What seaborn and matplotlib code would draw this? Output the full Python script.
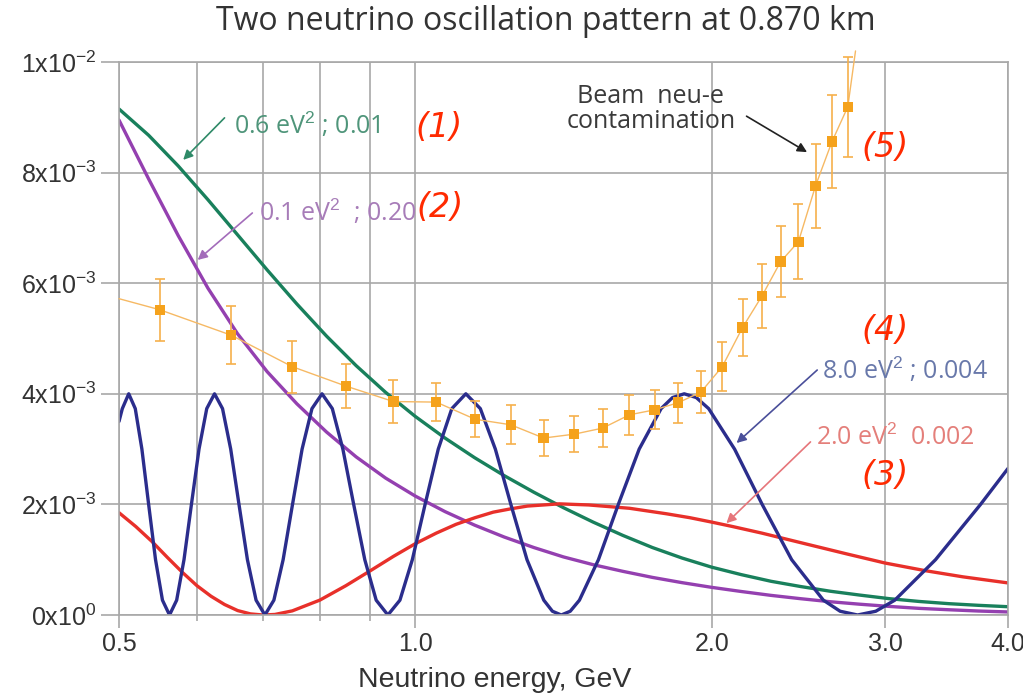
# ============================================
# TWO NEUTRINO OSCILLATION PATTERN AT 0.870 km
# ============================================

import numpy as np
import pandas as pd
import seaborn as sns
import matplotlib
matplotlib.use("Agg")
import matplotlib.pyplot as plt
from matplotlib.ticker import FixedLocator, NullFormatter


# ============================================
# DATA  (probabilities in units of 1e-3)
# ============================================

# energies (1) and (2)
smooth_energy = [0.5000, 0.5359, 0.5743, 0.6156, 0.6598, 0.7071, 0.7579, 0.8123,
                 0.8706, 0.9330, 1.0000, 1.0718, 1.1487, 1.2311, 1.3195, 1.4142,
                 1.5157, 1.6245, 1.7411, 1.8661, 2.0000, 2.1435, 2.2974, 2.4623,
                 2.6390, 2.8284, 3.0314, 3.2490, 3.4822, 3.7321, 4.0000]

# (1) 0.6 eV^2 ; 0.01
green_prob = [9.15, 8.675, 8.12, 7.51, 6.875, 6.24, 5.625, 5.045,
              4.51, 4.025, 3.59, 3.20, 2.845, 2.52, 2.22, 1.94,
              1.68, 1.44, 1.22, 1.03, 0.865, 0.73, 0.61, 0.515,
              0.43, 0.36, 0.295, 0.245, 0.205, 0.175, 0.15]

# (2) 0.1 eV^2 ; 0.20
purple_prob = [8.95, 7.885, 6.86, 5.91, 5.085, 4.40, 3.82, 3.31,
               2.86, 2.475, 2.15, 1.87, 1.625, 1.41, 1.22, 1.05,
               0.91, 0.79, 0.68, 0.585, 0.50, 0.425, 0.355, 0.295,
               0.24, 0.195, 0.155, 0.12, 0.095, 0.072, 0.055]

# (3) 2.0 eV^2 ; 0.002
red_energy = [0.50, 0.52, 0.54, 0.56, 0.58, 0.60, 0.62, 0.64, 0.66, 0.68, 0.70,
              0.72, 0.75, 0.80, 0.85, 0.90, 0.95, 1.00, 1.05, 1.10, 1.15, 1.20,
              1.25, 1.30, 1.35, 1.40, 1.50, 1.65, 1.80, 1.90, 2.00, 2.10, 2.25,
              2.50, 2.75, 3.00, 3.30, 3.60, 4.00]
red_prob = [1.85, 1.60, 1.33, 1.04, 0.77, 0.53, 0.34, 0.19, 0.08, 0.02, 0.00,
            0.01, 0.075, 0.27, 0.53, 0.80, 1.06, 1.29, 1.48, 1.64, 1.76, 1.86,
            1.92, 1.97, 1.99, 2.01, 1.99, 1.93, 1.83, 1.76, 1.68, 1.60, 1.48,
            1.28, 1.10, 0.94, 0.80, 0.69, 0.58]

# (4) 8.0 eV^2 ; 0.004
blue_energy = [0.5000, 0.5039, 0.5115, 0.5194, 0.5275, 0.5359, 0.5446, 0.5535,
               0.5627, 0.5722, 0.5821, 0.5923, 0.6029, 0.6139, 0.6252, 0.6370,
               0.6493, 0.6620, 0.6752, 0.6890, 0.7034, 0.7183, 0.7340, 0.7503,
               0.7673, 0.7852, 0.8039, 0.8235, 0.8441, 0.8657, 0.8885, 0.9125,
               0.9378, 0.9646, 0.9930, 1.0231, 1.0551, 1.0891, 1.1254, 1.1642,
               1.2058, 1.2504, 1.2985, 1.3505, 1.3780, 1.4068, 1.4367, 1.4679,
               1.5346, 1.6077, 1.6881, 1.7769, 1.8250, 1.8757, 1.9293, 1.9860,
               2.1101, 2.2508, 2.4116, 2.5971, 2.7010, 2.8135, 2.9358, 3.0693,
               3.3762, 3.7513, 4.0000]
blue_prob = [3.50, 3.732, 4.0, 3.732, 3.0, 2.0, 1.0, 0.268,
             0.0, 0.268, 1.0, 2.0, 3.0, 3.732, 4.0, 3.732,
             3.0, 2.0, 1.0, 0.268, 0.0, 0.268, 1.0, 2.0,
             3.0, 3.732, 4.0, 3.732, 3.0, 2.0, 1.0, 0.268,
             0.0, 0.268, 1.0, 2.0, 3.0, 3.732, 4.0, 3.732,
             3.0, 2.0, 1.0, 0.268, 0.068, 0.0, 0.068, 0.268,
             1.0, 2.0, 3.0, 3.732, 3.932, 4.0, 3.932, 3.732,
             3.0, 2.0, 1.0, 0.268, 0.068, 0.0, 0.068, 0.268,
             1.0, 2.0, 2.65]

# (5) beam neu-e contamination
beam_energy = [0.55, 0.65, 0.75, 0.85, 0.95, 1.05, 1.15, 1.25, 1.35, 1.45, 1.55, 1.65,
               1.75, 1.85, 1.95, 2.05, 2.15, 2.25, 2.35, 2.45, 2.55, 2.65, 2.75]
beam_prob = [5.52, 5.06, 4.49, 4.14, 3.86, 3.85, 3.54, 3.44, 3.20, 3.27, 3.38, 3.62,
             3.71, 3.84, 4.03, 4.49, 5.20, 5.77, 6.39, 6.75, 7.76, 8.56, 9.19]
beam_err = [0.56, 0.52, 0.47, 0.40, 0.39, 0.35, 0.33, 0.35, 0.33, 0.32, 0.34, 0.36,
            0.35, 0.36, 0.38, 0.44, 0.52, 0.58, 0.64, 0.68, 0.76, 0.84, 0.90]
# thin guide line runs a little past the first and last points
beam_line_start = (0.50, 5.72)
beam_line_end = (2.80, 10.2)

x_ticks = [0.5, 1.0, 2.0, 3.0, 4.0]
x_tick_labels = ["0.5", "1.0", "2.0", "3.0", "4.0"]
x_minor = [0.6, 0.7, 0.8, 0.9]
y_ticks = [0.0, 2.0, 4.0, 6.0, 8.0, 10.0]
y_tick_labels = [r"0x10$^{0}$", r"2x10$^{-3}$", r"4x10$^{-3}$",
                 r"6x10$^{-3}$", r"8x10$^{-3}$", r"1x10$^{-2}$"]

SCALE = 1e-3


# ============================================
# STYLE
# ============================================

sns.set_style("white")
plt.rcParams['font.family'] = ['Liberation Sans', 'DejaVu Sans']
plt.rcParams['mathtext.fontset'] = 'custom'
plt.rcParams['mathtext.rm'] = 'Liberation Sans'
plt.rcParams['mathtext.it'] = 'Liberation Sans:italic'
plt.rcParams['mathtext.bf'] = 'Liberation Sans:bold'

colors = {
    "green": "#19805c",
    "purple": "#9440b0",
    "red": "#e8302a",
    "blue": "#2b2d8c",
}
grid_col = "#a8a8a8"
label_col = "#333333"


# ============================================
# BUILD TABLE
# ============================================

curves = pd.concat([
    pd.DataFrame({"energy": smooth_energy, "prob": np.array(green_prob) * SCALE, "curve": "green"}),
    pd.DataFrame({"energy": smooth_energy, "prob": np.array(purple_prob) * SCALE, "curve": "purple"}),
    pd.DataFrame({"energy": red_energy, "prob": np.array(red_prob) * SCALE, "curve": "red"}),
    pd.DataFrame({"energy": blue_energy, "prob": np.array(blue_prob) * SCALE, "curve": "blue"}),
], ignore_index=True)

beam = pd.DataFrame({
    "energy": beam_energy,
    "prob": np.array(beam_prob) * SCALE,
    "err": np.array(beam_err) * SCALE,
})
beam_line = pd.DataFrame({
    "energy": [beam_line_start[0]] + beam_energy + [beam_line_end[0]],
    "prob": np.array([beam_line_start[1]] + beam_prob + [beam_line_end[1]]) * SCALE,
})


# ============================================
# PLOT
# ============================================

fig, ax = plt.subplots(figsize=(10.23, 6.94), dpi=100)
fig.subplots_adjust(left=119 / 1023, right=1008 / 1023, top=1 - 62 / 694, bottom=1 - 615 / 694)

sns.lineplot(data=curves, x="energy", y="prob", hue="curve", palette=colors,
             hue_order=["green", "purple", "red", "blue"],
             estimator=None, sort=True, linewidth=2.4, legend=False, ax=ax)

# beam contamination points
sns.lineplot(data=beam_line, x="energy", y="prob", color="#f6b964", linewidth=1.0,
             estimator=None, sort=True, ax=ax, zorder=4, clip_on=False)
ax.errorbar(beam["energy"], beam["prob"], yerr=beam["err"], fmt="none",
            ecolor="#f6b04c", elinewidth=1.2, capsize=3.5, capthick=1.2,
            zorder=4, clip_on=False)
sns.scatterplot(data=beam, x="energy", y="prob", marker="s", s=55, color="#f5a21c",
                edgecolor="none", ax=ax, zorder=5)

ax.set_xscale("log")
ax.set_xlim(0.5, 4.0)
ax.set_ylim(0, 0.01)

ax.xaxis.set_major_locator(FixedLocator(x_ticks))
ax.set_xticklabels(x_tick_labels)
ax.xaxis.set_minor_locator(FixedLocator(x_minor))
ax.xaxis.set_minor_formatter(NullFormatter())
ax.set_yticks(np.array(y_ticks) * SCALE)
ax.set_yticklabels(y_tick_labels)

ax.grid(which="both", axis="x", color=grid_col, linewidth=1.2)
ax.grid(which="major", axis="y", color=grid_col, linewidth=1.2)
ax.set_axisbelow(True)

ax.tick_params(axis="x", which="major", length=9, width=1.2, color=grid_col,
               labelsize=18, labelcolor=label_col, pad=3, direction="out", bottom=True)
ax.tick_params(axis="x", which="minor", length=4, width=1.2, color=grid_col,
               direction="out", bottom=True)
ax.tick_params(axis="y", length=13, width=1.2, color=grid_col,
               labelsize=18, labelcolor=label_col, pad=3, direction="out", left=True)

for side in ["left", "right", "top", "bottom"]:
    ax.spines[side].set_color(grid_col)
    ax.spines[side].set_linewidth(1.2)

ax.set_ylabel("")
ax.set_xlabel("Neutrino energy, GeV", fontsize=20.5, color=label_col)
ax.xaxis.set_label_coords(0.423, -0.094)

fig.text(546 / 1023, 1 - 22 / 694, "Two neutrino oscillation pattern at 0.870 km",
         ha="center", va="center", fontsize=23, color=label_col,
         family=["Open Sans", "DejaVu Sans"])


# ============================================
# ANNOTATIONS
# ============================================

def arrow(tail, tip, color):
    ax.annotate("", xy=(tip[0], tip[1] * SCALE), xytext=(tail[0], tail[1] * SCALE),
                arrowprops=dict(arrowstyle="-|>", color=color, lw=1.2,
                                mutation_scale=14, shrinkA=0, shrinkB=0),
                zorder=6)


def label(x, y, text, color, size=18):
    ax.text(x, y * SCALE, text, color=color, fontsize=size, ha="left", va="center",
            family=["Open Sans", "DejaVu Sans"], zorder=6)


arrow((0.640, 8.99), (0.581, 8.23), "#2f8a68")
label(0.655, 8.86, r"0.6 eV$^2$ ; 0.01", "#4f957a")

arrow((0.683, 7.27), (0.601, 6.42), "#a36cba")
label(0.694, 7.29, r"0.1 eV$^2$  ; 0.20", "#a77cb8")

arrow((2.56, 4.43), (2.12, 3.11), "#4a4f9a")
label(2.588, 4.43, r"8.0 eV$^2$ ; 0.004", "#6878aa")

arrow((2.52, 3.13), (2.07, 1.66), "#e6757a")
label(2.55, 3.20, r"2.0 eV$^2$  0.002", "#e47f7a")

arrow((2.17, 9.02), (2.50, 8.37), "#222222")
ax.text(1.735, 9.15 * SCALE, "Beam  neu-e\ncontamination", color="#3a3a3a",
        fontsize=18, ha="center", va="center", linespacing=1.05,
        family=["Open Sans", "DejaVu Sans"], zorder=6)

num_col = "#ff2a00"
for x, y, text in [(1.00, 8.81, "(1)"), (1.0035, 7.36, "(2)"), (2.84, 2.53, "(3)"),
                   (2.84, 5.15, "(4)"), (2.84, 8.46, "(5)")]:
    ax.text(x, y * SCALE, text, color=num_col, fontsize=24, style="italic",
            ha="left", va="center", family="DejaVu Sans", zorder=6)

fig.savefig("out.png", dpi=100)
